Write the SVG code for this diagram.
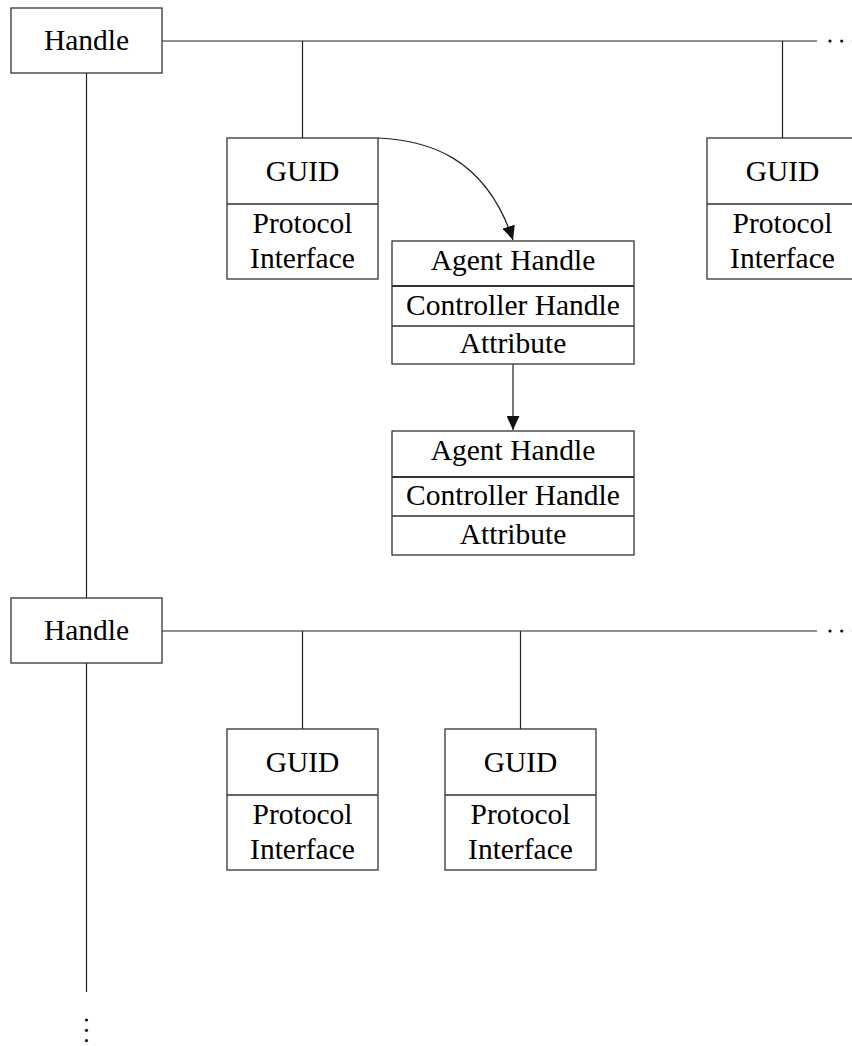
<svg xmlns="http://www.w3.org/2000/svg" width="852" height="1046" viewBox="0 0 852 1046">
  <style>
    .box { fill: #ffffff; stroke: #333333; stroke-width: 1.3; }
    .div { stroke: #333333; stroke-width: 1.3; fill: none; }
    .div2 { stroke: #333333; stroke-width: 1.9; fill: none; }
    .wire { stroke: #222222; stroke-width: 1.2; fill: none; }
    .lbl { font-family: "Liberation Serif", "Times New Roman", serif; font-size: 29.5px; fill: #000000; text-anchor: middle; }
    .dot { fill: #111111; }
  </style>
  <defs>
    <marker id="arrow" markerUnits="userSpaceOnUse" markerWidth="15" markerHeight="13" refX="14" refY="6.5" orient="auto">
      <path d="M0,0 L14,6.5 L0,13 Z" fill="#111111"/>
    </marker>
  </defs>

  <!-- connectors -->
  <g id="connectors">
    <!-- handle list spine -->
    <line class="wire" x1="86.5" y1="73" x2="86.5" y2="598"/>
    <line class="wire" x1="86.5" y1="663" x2="86.5" y2="992"/>
    <!-- protocol buses -->
    <line class="wire" x1="162" y1="41" x2="817" y2="41"/>
    <line class="wire" x1="162" y1="631" x2="817" y2="631"/>
    <!-- drops to protocol entries -->
    <line class="wire" x1="302.5" y1="41" x2="302.5" y2="138"/>
    <line class="wire" x1="782.5" y1="41" x2="782.5" y2="138"/>
    <line class="wire" x1="302.5" y1="631" x2="302.5" y2="729"/>
    <line class="wire" x1="520.5" y1="631" x2="520.5" y2="729"/>
    <!-- open list links -->
    <path class="wire" d="M378,138 C425,140 485,155 513,240" marker-end="url(#arrow)"/>
    <line class="wire" x1="513" y1="364" x2="513" y2="430" marker-end="url(#arrow)"/>
    <!-- continuation dots -->
    <circle class="dot" cx="830" cy="41" r="1.6"/>
    <circle class="dot" cx="841.7" cy="41" r="1.6"/>
    <circle class="dot" cx="853.4" cy="41" r="1.6"/>
    <circle class="dot" cx="830" cy="631" r="1.6"/>
    <circle class="dot" cx="841.7" cy="631" r="1.6"/>
    <circle class="dot" cx="853.4" cy="631" r="1.6"/>
    <circle class="dot" cx="86.5" cy="1020" r="1.6"/>
    <circle class="dot" cx="86.5" cy="1030.3" r="1.6"/>
    <circle class="dot" cx="86.5" cy="1040.6" r="1.6"/>
  </g>

  <!-- handles -->
  <g id="handle1">
    <rect class="box" x="11" y="8" width="151" height="65"/>
    <text class="lbl" x="86.5" y="50">Handle</text>
  </g>
  <g id="handle2">
    <rect class="box" x="11" y="598" width="151" height="65"/>
    <text class="lbl" x="86.5" y="640">Handle</text>
  </g>

  <!-- protocol entries of handle 1 -->
  <g id="proto1">
    <rect class="box" x="227" y="138" width="151" height="141"/>
    <line class="div" x1="227" y1="204" x2="378" y2="204"/>
    <text class="lbl" x="302.5" y="181">GUID</text>
    <text class="lbl" x="302.5" y="233">Protocol</text>
    <text class="lbl" x="302.5" y="268">Interface</text>
  </g>
  <g id="proto2">
    <rect class="box" x="707" y="138" width="151" height="141"/>
    <line class="div" x1="707" y1="204" x2="858" y2="204"/>
    <text class="lbl" x="782.5" y="181">GUID</text>
    <text class="lbl" x="782.5" y="233">Protocol</text>
    <text class="lbl" x="782.5" y="268">Interface</text>
  </g>

  <!-- open protocol information entries -->
  <g id="open1">
    <rect class="box" x="392" y="241" width="242" height="123"/>
    <line class="div2" x1="392" y1="286" x2="634" y2="286"/>
    <line class="div" x1="392" y1="326" x2="634" y2="326"/>
    <text class="lbl" x="513" y="270">Agent Handle</text>
    <text class="lbl" x="513" y="315">Controller Handle</text>
    <text class="lbl" x="513" y="353">Attribute</text>
  </g>
  <g id="open2">
    <rect class="box" x="392" y="431" width="242" height="124"/>
    <line class="div2" x1="392" y1="477" x2="634" y2="477"/>
    <line class="div" x1="392" y1="516" x2="634" y2="516"/>
    <text class="lbl" x="513" y="460">Agent Handle</text>
    <text class="lbl" x="513" y="505">Controller Handle</text>
    <text class="lbl" x="513" y="544">Attribute</text>
  </g>

  <!-- protocol entries of handle 2 -->
  <g id="proto3">
    <rect class="box" x="227" y="729" width="151" height="141"/>
    <line class="div" x1="227" y1="795" x2="378" y2="795"/>
    <text class="lbl" x="302.5" y="772">GUID</text>
    <text class="lbl" x="302.5" y="824">Protocol</text>
    <text class="lbl" x="302.5" y="859">Interface</text>
  </g>
  <g id="proto4">
    <rect class="box" x="445" y="729" width="151" height="141"/>
    <line class="div" x1="445" y1="795" x2="596" y2="795"/>
    <text class="lbl" x="520.5" y="772">GUID</text>
    <text class="lbl" x="520.5" y="824">Protocol</text>
    <text class="lbl" x="520.5" y="859">Interface</text>
  </g>
</svg>
